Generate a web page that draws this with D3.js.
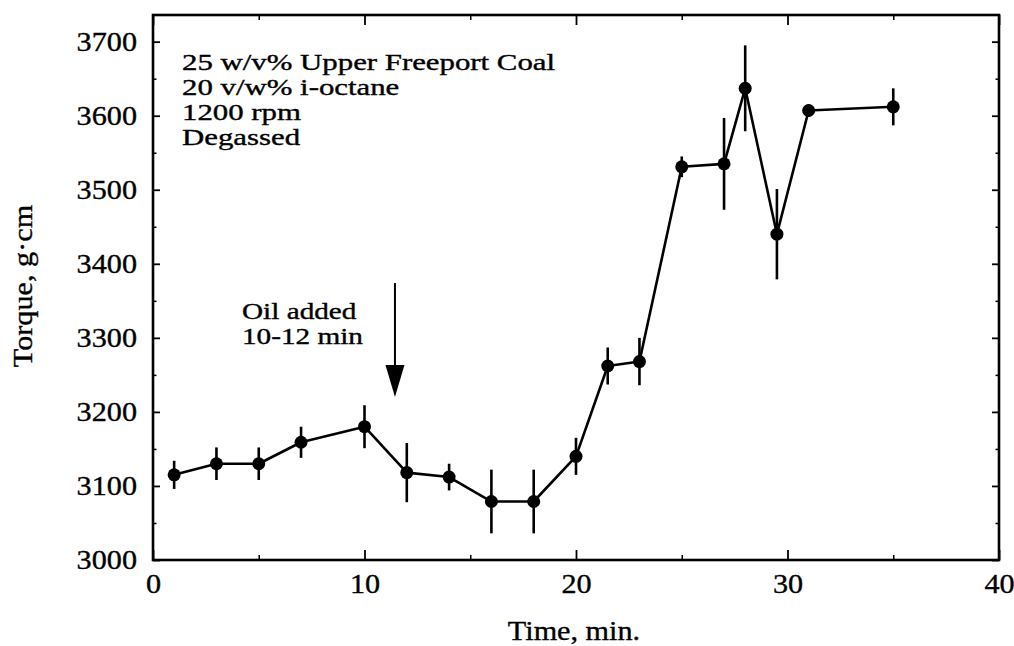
<!DOCTYPE html>
<html>
<head>
<meta charset="utf-8">
<script src="https://cdn.jsdelivr.net/npm/d3@7"></script>
<style>
  html, body { margin: 0; padding: 0; background: #fff; }
  svg text { font-family: "Liberation Serif", "Times New Roman", serif; fill: #000; stroke: #000; stroke-width: 0.35px; }
</style>
</head>
<body>
<svg id="chart" width="1014" height="646"></svg>
<script>
// Torque measured over time while oil is added to the coal slurry
const times   = [1, 3, 5, 7, 10, 12, 14, 16, 18, 20, 21.5, 23, 25, 27, 28, 29.5, 31, 35];
const torque  = [3115, 3130, 3130, 3159, 3180, 3118, 3112, 3079, 3079, 3140, 3262, 3268, 3531, 3535, 3637, 3440, 3607, 3612];
const errors  = [19, 22, 22, 21, 29, 40, 18, 43, 43, 25, 25, 32, 14, 62, 58, 61, 8, 25];

const xMajorTicks = [0, 10, 20, 30, 40];
const xMinorTicks = [5, 15, 25, 35];
const yMajorTicks = [3000, 3100, 3200, 3300, 3400, 3500, 3600, 3700];
const yMinorTicks = [3050, 3150, 3250, 3350, 3450, 3550, 3650];

const conditions = ["25 w/v% Upper Freeport Coal", "20 v/w% i-octane", "1200 rpm", "Degassed"];
const oilNote = ["Oil added", "10-12 min"];
const oilArrow = { time: 11.44, from: 3374, to: 3220 };

const W = 1014, H = 646;
const margin = { left: 153, right: 15, top: 15, bottom: 86 };
const SX = 1.14;          // horizontal stretch of the serif lettering
const FS = 26.5;          // axis font size (px)
const NOTE_FS = 22.5;     // annotation font size (px)
const NOTE_GAP = 25;      // annotation line spacing (px)

const svg = d3.select("#chart");
const x = d3.scaleLinear().domain([0, 40]).range([margin.left, W - margin.right]);
const y = d3.scaleLinear().domain([3000, 3736]).range([H - margin.bottom, margin.top]);

const x0 = x.range()[0], x1 = x.range()[1];
const y0 = y.range()[0], y1 = y.range()[1];

function stretchLabels(sel, anchorX) {
  sel.selectAll("text")
    .style("font-size", FS + "px")
    .attr("transform", `scale(${SX},1)`)
    .each(function () {
      const t = d3.select(this);
      if (anchorX !== undefined) t.attr("x", anchorX / SX);
    });
}

// bottom axis: labelled major ticks, inward
const gBottom = svg.append("g").attr("transform", `translate(0,${y0})`)
  .call(d3.axisBottom(x).tickValues(xMajorTicks).tickFormat(d3.format("d"))
    .tickSizeInner(-10).tickSizeOuter(0).tickPadding(15));
gBottom.select(".domain").remove();
gBottom.selectAll("line").attr("stroke-width", 1.8);
stretchLabels(gBottom);
gBottom.selectAll("text").attr("y", 14);

svg.append("g").attr("transform", `translate(0,${y0})`)
  .call(d3.axisBottom(x).tickValues(xMinorTicks).tickFormat("").tickSizeInner(-5).tickSizeOuter(0))
  .call(g => g.select(".domain").remove())
  .selectAll("line").attr("stroke-width", 1.5);

// top axis: ticks only
svg.append("g").attr("transform", `translate(0,${y1})`)
  .call(d3.axisTop(x).tickValues(xMajorTicks).tickFormat("").tickSizeInner(-10).tickSizeOuter(0))
  .call(g => g.select(".domain").remove())
  .selectAll("line").attr("stroke-width", 1.8);
svg.append("g").attr("transform", `translate(0,${y1})`)
  .call(d3.axisTop(x).tickValues(xMinorTicks).tickFormat("").tickSizeInner(-5).tickSizeOuter(0))
  .call(g => g.select(".domain").remove())
  .selectAll("line").attr("stroke-width", 1.5);

// left axis: labelled major ticks, inward
const gLeft = svg.append("g").attr("transform", `translate(${x0},0)`)
  .call(d3.axisLeft(y).tickValues(yMajorTicks).tickFormat(d3.format("d"))
    .tickSizeInner(-7).tickSizeOuter(0).tickPadding(16));
gLeft.select(".domain").remove();
gLeft.selectAll("line").attr("stroke-width", 1.8);
stretchLabels(gLeft, -16);

svg.append("g").attr("transform", `translate(${x0},0)`)
  .call(d3.axisLeft(y).tickValues(yMinorTicks).tickFormat("").tickSizeInner(-3.5).tickSizeOuter(0))
  .call(g => g.select(".domain").remove())
  .selectAll("line").attr("stroke-width", 1.5);

// right axis: ticks only
svg.append("g").attr("transform", `translate(${x1},0)`)
  .call(d3.axisRight(y).tickValues(yMajorTicks).tickFormat("").tickSizeInner(-7).tickSizeOuter(0))
  .call(g => g.select(".domain").remove())
  .selectAll("line").attr("stroke-width", 1.8);
svg.append("g").attr("transform", `translate(${x1},0)`)
  .call(d3.axisRight(y).tickValues(yMinorTicks).tickFormat("").tickSizeInner(-3.5).tickSizeOuter(0))
  .call(g => g.select(".domain").remove())
  .selectAll("line").attr("stroke-width", 1.5);

// plot frame
svg.append("rect")
  .attr("x", x0).attr("y", y1)
  .attr("width", x1 - x0).attr("height", y0 - y1)
  .attr("fill", "none").attr("stroke", "#000").attr("stroke-width", 2.6);

// axis titles
svg.append("text")
  .attr("transform", `translate(${(x0 + x1) / 2 - 2},640) scale(${SX},1)`)
  .attr("text-anchor", "middle").style("font-size", FS + "px")
  .text("Time, min.");

svg.append("text")
  .attr("transform", `translate(32,286) rotate(-90) scale(${SX},1)`)
  .attr("text-anchor", "middle").style("font-size", FS + "px")
  .text("Torque, g·cm");

// multi-line text block, one <text> with a <tspan> per line
function textBlock(lines, tx, ty, sx) {
  const t = svg.append("text")
    .attr("transform", `translate(${tx},${ty}) scale(${sx},1)`)
    .style("font-size", NOTE_FS + "px");
  t.selectAll("tspan").data(lines).join("tspan")
    .attr("x", 0).attr("y", (d, i) => i * NOTE_GAP)
    .text(d => d);
  return t;
}

// experimental conditions
textBlock(conditions, 182, 70, 1.37);

// oil addition note and arrow
textBlock(oilNote, 242, 319, 1.3);

const ax = x(oilArrow.time), aTop = y(oilArrow.from), aTip = y(oilArrow.to);
const headH = 32, headW = 19;
svg.append("line")
  .attr("x1", ax).attr("x2", ax).attr("y1", aTop).attr("y2", aTip - headH + 2)
  .attr("stroke", "#000").attr("stroke-width", 2);
svg.append("path")
  .attr("d", `M${ax - headW / 2},${aTip - headH} L${ax + headW / 2},${aTip - headH} L${ax},${aTip} Z`)
  .attr("fill", "#000");

// error bars
svg.append("g").selectAll("line").data(times).join("line")
  .attr("x1", d => x(d)).attr("x2", d => x(d))
  .attr("y1", (d, i) => y(torque[i] + errors[i]))
  .attr("y2", (d, i) => y(torque[i] - errors[i]))
  .attr("stroke", "#000").attr("stroke-width", 2.6);

// connecting line
const pts = times.map((t, i) => [t, torque[i]]);
svg.append("path")
  .datum(pts)
  .attr("d", d3.line().x(d => x(d[0])).y(d => y(d[1])))
  .attr("fill", "none").attr("stroke", "#000").attr("stroke-width", 2.6)
  .attr("stroke-linejoin", "round");

// markers
svg.append("g").selectAll("circle").data(pts).join("circle")
  .attr("cx", d => x(d[0])).attr("cy", d => y(d[1]))
  .attr("r", 6.5).attr("fill", "#000");
</script>
</body>
</html>
